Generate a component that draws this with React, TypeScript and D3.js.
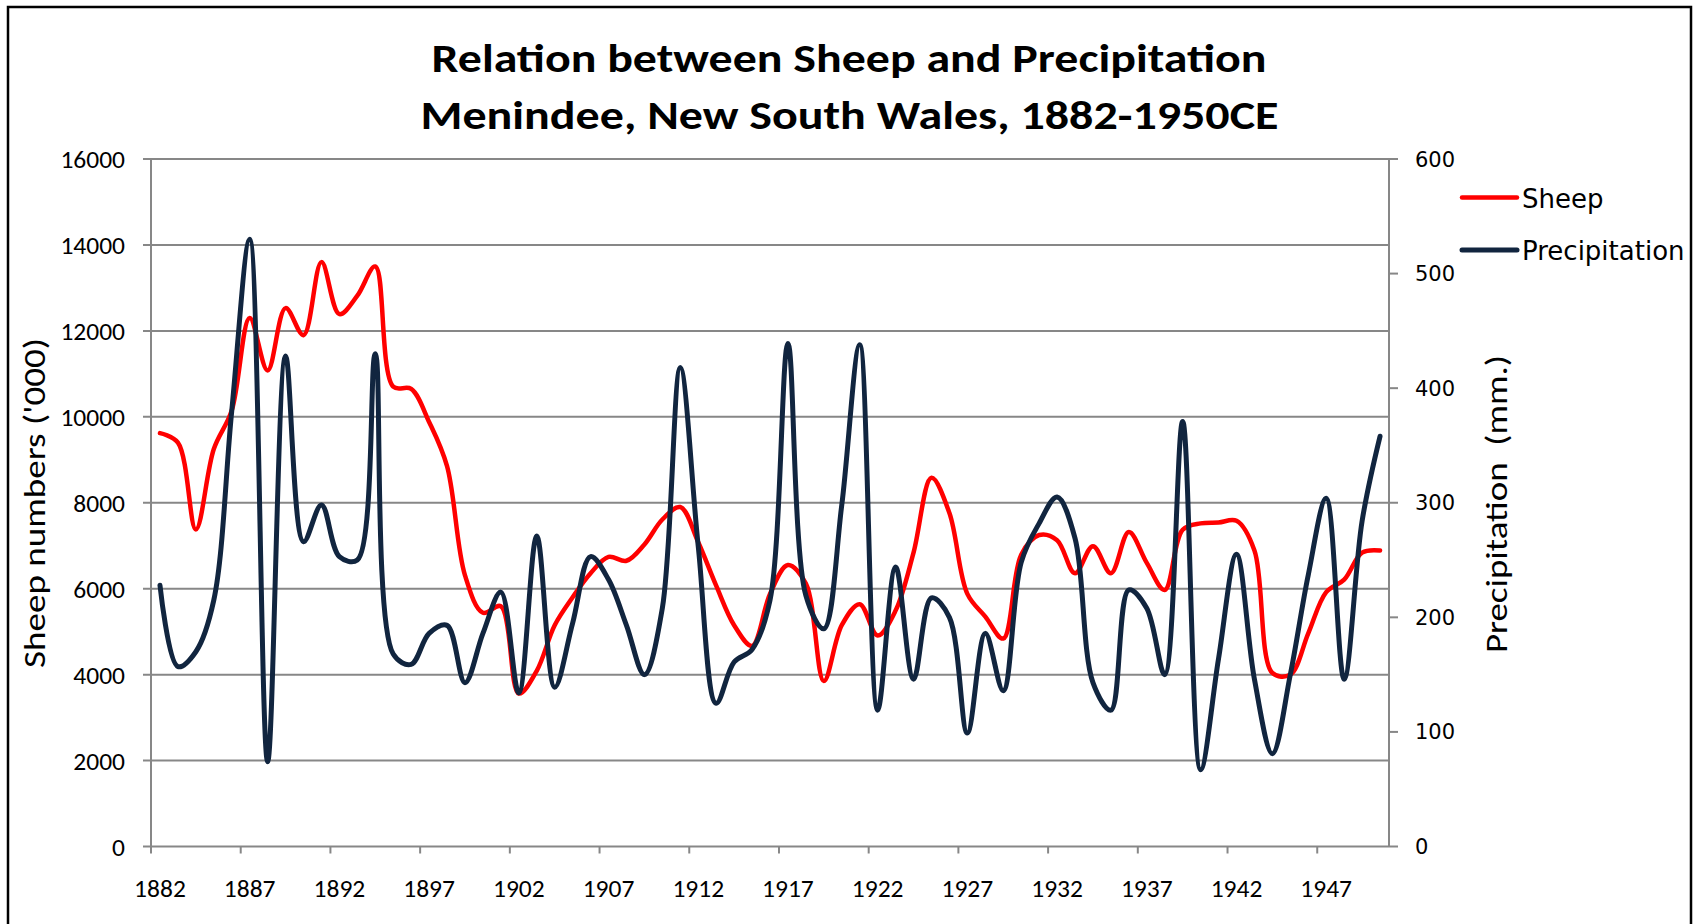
import React from "react";
import * as d3 from "d3";

const years: number[] = [
  1882, 1883, 1884, 1885, 1886, 1887, 1888, 1889, 1890, 1891, 1892, 1893, 1894, 1895, 1896, 1897,
  1898, 1899, 1900, 1901, 1902, 1903, 1904, 1905, 1906, 1907, 1908, 1909, 1910, 1911, 1912, 1913,
  1914, 1915, 1916, 1917, 1918, 1919, 1920, 1921, 1922, 1923, 1924, 1925, 1926, 1927, 1928, 1929,
  1930, 1931, 1932, 1933, 1934, 1935, 1936, 1937, 1938, 1939, 1940, 1941, 1942, 1943, 1944, 1945,
  1946, 1947, 1948, 1949, 1950,
];

const sheep: number[] = [
  9620, 9400, 7380, 9250, 10150, 12300, 11080, 12530, 11900, 13600, 12390, 12820, 13500, 10700, 10650, 9880,
  8850, 6310, 5440, 5590, 3560, 4090, 5150, 5800, 6360, 6740, 6650, 7030, 7610, 7900, 7080, 6070,
  5150, 4670, 5880, 6550, 6120, 3850, 5150, 5640, 4910, 5490, 6840, 8580, 7760, 5880, 5350, 4840,
  6790, 7250, 7130, 6360, 6990, 6360, 7320, 6600, 5970, 7370, 7520, 7540, 7580, 6890, 4040, 4000,
  4960, 5920, 6210, 6840, 6890,
];

const precipitation: number[] = [
  228, 157, 170, 215, 380, 530, 74, 428, 266, 298, 253, 250, 430, 168, 159, 186,
  193, 143, 186, 222, 134, 271, 139, 195, 253, 233, 193, 150, 208, 418, 262, 125,
  161, 172, 215, 439, 219, 190, 298, 438, 119, 244, 146, 217, 200, 99, 186, 136,
  248, 282, 305, 269, 143, 119, 224, 208, 150, 371, 67, 164, 255, 146, 81, 150,
  237, 304, 146, 284, 358,
];

const leftTicks: number[] = [0, 2000, 4000, 6000, 8000, 10000, 12000, 14000, 16000];
const rightTicks: number[] = [0, 100, 200, 300, 400, 500, 600];
const xLabelYears: number[] = [1882, 1887, 1892, 1897, 1902, 1907, 1912, 1917, 1922, 1927, 1932, 1937, 1942, 1947];

const titleLines: string[] = [
  "Relation between Sheep and Precipitation",
  "Menindee, New South Wales, 1882-1950CE",
];

const W = 1699;
const H = 924;
const L = 151;
const R = 1389;
const T = 159;
const B = 846.5;

const RED = "#FF0000";
const NAVY = "#11253F";
const GRID = "#878787";
const CAL = "Carlito, Lato, sans-serif";
const VER = "'DejaVu Sans', Verdana, sans-serif";

export default function App() {
  const x = d3.scaleBand<number>().domain(years).range([L, R]).paddingInner(0).paddingOuter(0);
  const bw = x.bandwidth();
  const cx = (yr: number) => (x(yr) as number) + bw / 2;
  const yL = d3.scaleLinear().domain([0, 16000]).range([B, T]);
  const yR = d3.scaleLinear().domain([0, 600]).range([B, T]);

  const curve = d3.curveCatmullRom.alpha(0.5);
  const sheepPath = d3
    .line<number>()
    .x((_, i) => cx(years[i]))
    .y((d) => yL(d))
    .curve(curve)(sheep) as string;
  const precPath = d3
    .line<number>()
    .x((_, i) => cx(years[i]))
    .y((d) => yR(d))
    .curve(curve)(precipitation) as string;

  const xTickPos = xLabelYears.map((yr) => x(yr) as number);

  return (
    <svg
      width={W}
      height={H}
      style={{ position: "absolute", left: 0, top: 0, background: "#fff" }}
    >
      <rect x={0} y={0} width={W} height={H} fill="#fff" />
      <rect x={8} y={7} width={1683} height={H + 20} fill="none" stroke="#000" strokeWidth={2.5} />

      {/* title */}
      <text
        x={849}
        y={72}
        textAnchor="middle"
        fontFamily={CAL}
        fontWeight="bold"
        fontSize={40}
        textLength={835}
        lengthAdjust="spacingAndGlyphs"
      >
        {titleLines[0]}
      </text>
      <text
        x={849.5}
        y={128.5}
        textAnchor="middle"
        fontFamily={CAL}
        fontWeight="bold"
        fontSize={40}
        textLength={858}
        lengthAdjust="spacingAndGlyphs"
      >
        {titleLines[1]}
      </text>

      {/* gridlines + left ticks */}
      {leftTicks.map((t) => (
        <line key={"g" + t} x1={L - 8} x2={R} y1={yL(t)} y2={yL(t)} stroke={GRID} strokeWidth={2} />
      ))}
      {/* axes lines */}
      <line x1={L} x2={L} y1={T} y2={B} stroke={GRID} strokeWidth={2} />
      <line x1={R} x2={R} y1={T} y2={B} stroke={GRID} strokeWidth={2} />
      {rightTicks.map((t) => (
        <line key={"r" + t} x1={R} x2={R + 9} y1={yR(t)} y2={yR(t)} stroke={GRID} strokeWidth={2} />
      ))}
      {xTickPos.map((p, i) => (
        <line key={"xt" + i} x1={p} x2={p} y1={B} y2={B + 7} stroke={GRID} strokeWidth={2} />
      ))}

      {/* left tick labels */}
      {leftTicks.map((t) => (
        <text key={"ll" + t} x={125} y={yL(t)} dy="0.36em" textAnchor="end" fontFamily={CAL} fontSize={25.5} fill="#000">
          {t}
        </text>
      ))}
      {/* right tick labels */}
      {rightTicks.map((t) => (
        <text key={"rl" + t} x={1415} y={yR(t)} dy="0.36em" textAnchor="start" fontFamily={VER} fontSize={21} fill="#000">
          {t}
        </text>
      ))}
      {/* x labels */}
      {xLabelYears.map((yr) => (
        <text key={"xl" + yr} x={cx(yr)} y={897} textAnchor="middle" fontFamily={CAL} fontSize={25.5} fill="#000">
          {yr}
        </text>
      ))}

      {/* axis titles */}
      <text
        transform={`translate(45,503) rotate(-90)`}
        textAnchor="middle"
        fontFamily={CAL}
        fontSize={30}
        textLength={330}
        lengthAdjust="spacingAndGlyphs"
      >
        Sheep numbers ('000)
      </text>
      <text
        transform={`translate(1507,504) rotate(-90)`}
        textAnchor="middle"
        fontFamily={CAL}
        fontSize={30}
        textLength={298}
        lengthAdjust="spacingAndGlyphs"
        style={{ whiteSpace: "pre" }}
      >
        {"Precipitation  (mm.)"}
      </text>

      {/* series */}
      <path d={sheepPath} fill="none" stroke={RED} strokeWidth={4.5} strokeLinejoin="round" strokeLinecap="round" />
      <path d={precPath} fill="none" stroke={NAVY} strokeWidth={5} strokeLinejoin="round" strokeLinecap="round" />

      {/* legend */}
      <line x1={1462} x2={1517} y1={197.5} y2={197.5} stroke={RED} strokeWidth={4.5} strokeLinecap="round" />
      <text x={1522} y={207.5} fontFamily={VER} fontSize={26} fill="#000">
        Sheep
      </text>
      <line x1={1462} x2={1517} y1={250} y2={250} stroke={NAVY} strokeWidth={5} strokeLinecap="round" />
      <text x={1522} y={260} fontFamily={VER} fontSize={26} fill="#000">
        Precipitation
      </text>
    </svg>
  );
}
